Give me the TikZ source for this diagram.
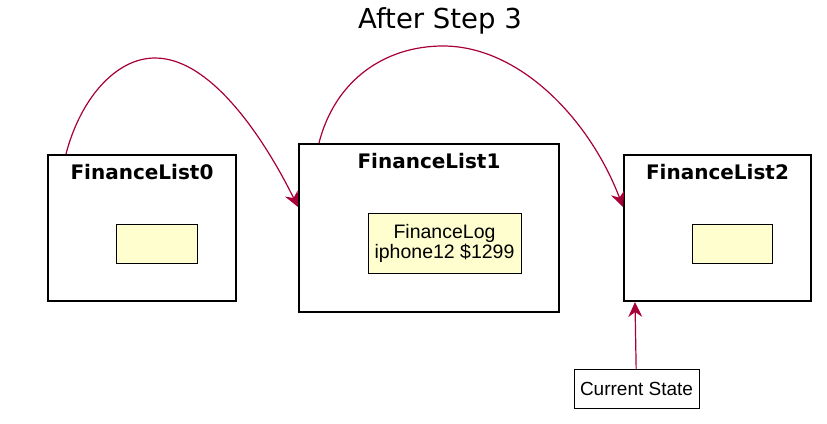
\documentclass[tikz,border=0pt]{standalone}
\usepackage{fontspec}
\setmainfont{Liberation Sans}
\newfontfamily\titlefont{DejaVu Sans}
\usetikzlibrary{shapes.geometric, arrows.meta}
\definecolor{arrowred}{HTML}{A80036}
\definecolor{logyellow}{HTML}{FEFECE}
\tikzstyle{listbox} = [rectangle, minimum width=188pt, minimum height=146pt, inner sep=0pt, draw=black, line width=2pt, fill=white]
\tikzstyle{listlabel} = [anchor=base, inner sep=0pt, font=\titlefont\bfseries\fontsize{20}{24}\selectfont]
\tikzstyle{logbox} = [rectangle, minimum width=81pt, minimum height=39pt, inner sep=0pt, align=center, draw=black, line width=0.9pt, fill=logyellow, font=\fontsize{19.5}{20}\selectfont]
\tikzstyle{statebox} = [rectangle, minimum width=125pt, minimum height=39pt, inner sep=0pt, draw=black, line width=0.9pt, fill=white, font=\fontsize{19}{20}\selectfont]
\tikzstyle{linkarrow} = [line width=1.2pt, draw=arrowred, -{Stealth[length=15pt,width=14pt,inset=5pt]}]

\begin{document}
\begin{tikzpicture}[x=1pt, y=-1pt, node distance=287pt]
    \useasboundingbox (0,0) rectangle (827,423);

    \node (title) [anchor=base, inner sep=0pt, font=\titlefont\fontsize{27.5}{30}\selectfont] at (440,28) {After Step 3};

    \node (fl0) [listbox] at (142,228) {};
    \node (fl1) [listbox, right of=fl0, minimum width=260pt, minimum height=168pt] {};
    \node (fl2) [listbox, right of=fl1, xshift=1.5pt, minimum width=187pt] {};

    \node (fl0label) [listlabel] at ([yshift=-25pt]fl0.north) {FinanceList0};
    \node (fl1label) [listlabel] at ([yshift=-25pt]fl1.north) {FinanceList1};
    \node (fl2label) [listlabel] at ([yshift=-25pt]fl2.north) {FinanceList2};

    \node (log0) [logbox] at ([xshift=14.5pt, yshift=-15.5pt]fl0.center) {};
    \node (log1) [logbox, minimum width=153pt, minimum height=60pt] at ([xshift=15.5pt, yshift=-15pt]fl1.center) {FinanceLog\\iphone12 \$1299};
    \node (log2) [logbox, minimum width=80pt] at ([xshift=14.5pt, yshift=-15.5pt]fl2.center) {};

    \node (state) [statebox] at ([xshift=-81pt, yshift=-160.5pt]fl2.center) {Current State};

    \draw [linkarrow] ([xshift=19pt]fl0.north west) .. controls (80,100) and (115,58) .. (155,58)
        .. controls (215,58) and (270,150) .. ([yshift=21pt]fl1.west);
    \draw [linkarrow] ([xshift=21pt]fl1.north west) .. controls (335,80) and (385,46) .. (443,46)
        .. controls (520,46) and (590,120) .. ([yshift=21pt]fl2.west);
    \draw [linkarrow] (state) -- ([xshift=12pt]fl2.south west);
\end{tikzpicture}
\end{document}
